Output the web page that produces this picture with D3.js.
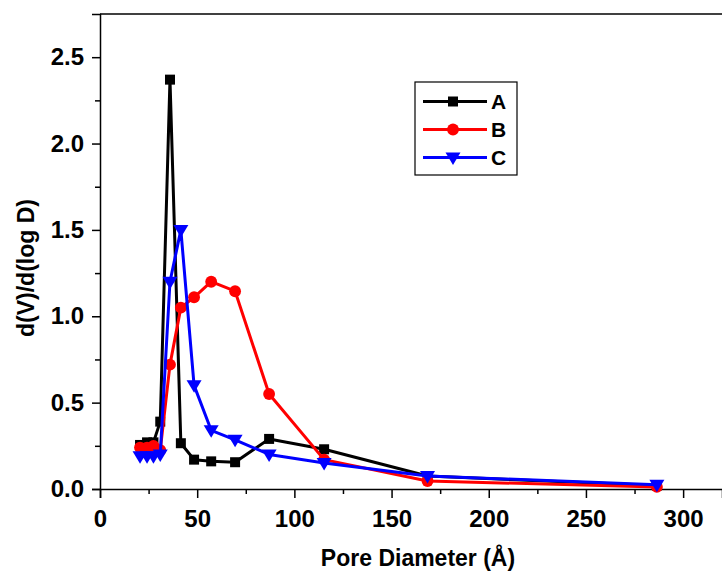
<!DOCTYPE html>
<html>
<head>
<meta charset="utf-8">
<script src="https://cdn.jsdelivr.net/npm/d3@7/dist/d3.min.js"></script>
<style>
html,body{margin:0;padding:0;background:#fff;}
svg{display:block;}
text{font-family:"Liberation Sans",Arial,sans-serif;font-weight:bold;fill:#000;}
</style>
</head>
<body>
<svg id="chart" width="722" height="571"></svg>
<script>
const poreDiameter = [20.6, 24.2, 27.5, 31.0, 36.0, 41.6, 48.4, 57.2, 69.5, 87.0, 115.3, 168.5, 286.5];
const seriesA = [0.255, 0.27, 0.27, 0.39, 2.37, 0.265, 0.17, 0.16, 0.155, 0.29, 0.23, 0.075, 0.02];
const seriesB = [0.24, 0.24, 0.25, 0.225, 0.72, 1.05, 1.11, 1.20, 1.145, 0.55, 0.17, 0.046, 0.012];
const seriesC = [0.19, 0.19, 0.19, 0.20, 1.20, 1.50, 0.60, 0.34, 0.285, 0.20, 0.15, 0.075, 0.025];
const seriesNames = ["A", "B", "C"];
const seriesColors = ["#000000", "#ff0000", "#0000ff"];
const seriesSymbols = [d3.symbolSquare, d3.symbolCircle, "triangleDown"];
const xTicks = [0, 50, 100, 150, 200, 250, 300];
const yTicks = [0.0, 0.5, 1.0, 1.5, 2.0, 2.5];
const xTitle = "Pore Diameter (Å)";
const yTitle = "d(V)/d(log D)";

const svg = d3.select("#chart");
const mLeft = 100, mTop = 14, mBottom = 489;
const x = d3.scaleLinear().domain([0, 320]).range([mLeft, 722]);
const y = d3.scaleLinear().domain([0, 2.75]).range([mBottom, mTop]);
const FONT = "Liberation Sans, Arial, sans-serif";

// frame (top line)
svg.append("line").attr("x1", mLeft).attr("x2", 722).attr("y1", mTop).attr("y2", mTop)
  .attr("stroke", "#000").attr("stroke-width", 1.5);

// x axis
const xAxis = d3.axisBottom(x).tickValues(xTicks).tickFormat(d3.format("d")).tickSize(9).tickPadding(12);
const gx = svg.append("g").attr("transform", `translate(0,${mBottom})`).call(xAxis);
gx.select(".domain").attr("stroke-width", 1.5);
gx.selectAll(".tick line").attr("stroke-width", 1.5);
gx.selectAll("text").attr("font-size", 24).style("font-family", FONT).style("font-weight", "bold");
const xMinor = d3.axisBottom(x).tickValues(d3.range(25, 320, 50)).tickSize(5).tickFormat("");
const gxm = svg.append("g").attr("transform", `translate(0,${mBottom})`).call(xMinor);
gxm.select(".domain").remove();
gxm.selectAll(".tick line").attr("stroke-width", 1.5);

// y axis
const yAxis = d3.axisLeft(y).tickValues(yTicks).tickFormat(d3.format(".1f")).tickSize(8).tickPadding(8);
const gy = svg.append("g").attr("transform", `translate(${mLeft},0)`).call(yAxis);
gy.select(".domain").attr("stroke-width", 1.5);
gy.selectAll(".tick line").attr("stroke-width", 1.5);
gy.selectAll("text").attr("font-size", 24).style("font-family", FONT).style("font-weight", "bold");
const yMinor = d3.axisLeft(y).tickValues(d3.range(0.25, 2.75, 0.5)).tickSize(5).tickFormat("");
const gym = svg.append("g").attr("transform", `translate(${mLeft},0)`).call(yMinor);
gym.select(".domain").remove();
gym.selectAll(".tick line").attr("stroke-width", 1.5);

// titles
svg.append("text").attr("x", 418).attr("y", 566).attr("text-anchor", "middle")
  .attr("font-size", 23).text(xTitle);
svg.append("text").attr("transform", "translate(34,268) rotate(-90)").attr("text-anchor", "middle")
  .attr("font-size", 23).text(yTitle);

function symbolPath(sym, size) {
  if (sym === "triangleDown") {
    const s = Math.sqrt(size);
    return `M${-s*0.75},${-s*0.5}L${s*0.75},${-s*0.5}L0,${s*0.75}Z`;
  }
  return d3.symbol().type(sym).size(size)();
}
const symSizes = [100, 110, 100];

const allSeries = [seriesA, seriesB, seriesC];
const line = d3.line().x(d => x(d[0])).y(d => y(d[1]));
allSeries.forEach((vals, i) => {
  const pts = poreDiameter.map((d, j) => [d, vals[j]]);
  const g = svg.append("g");
  g.append("path").datum(pts).attr("d", line).attr("fill", "none")
    .attr("stroke", seriesColors[i]).attr("stroke-width", 3).attr("stroke-linejoin", "round");
  g.selectAll("path.m").data(pts).enter().append("path").attr("class", "m")
    .attr("transform", d => `translate(${x(d[0])},${y(d[1])})`)
    .attr("d", symbolPath(seriesSymbols[i], symSizes[i]))
    .attr("fill", seriesColors[i]);
});

// legend
const lg = svg.append("g");
lg.append("rect").attr("x", 415).attr("y", 82).attr("width", 102).attr("height", 93)
  .attr("fill", "#fff").attr("stroke", "#000").attr("stroke-width", 1.2);
seriesNames.forEach((n, i) => {
  const yy = 101.5 + i * 28;
  lg.append("line").attr("x1", 423).attr("x2", 487).attr("y1", yy).attr("y2", yy)
    .attr("stroke", seriesColors[i]).attr("stroke-width", 3);
  lg.append("path").attr("transform", `translate(453,${yy})`)
    .attr("d", symbolPath(seriesSymbols[i], symSizes[i])).attr("fill", seriesColors[i]);
  lg.append("text").attr("x", 491).attr("y", yy + 7.5).attr("font-size", 21).text(n);
});
</script>
</body>
</html>
